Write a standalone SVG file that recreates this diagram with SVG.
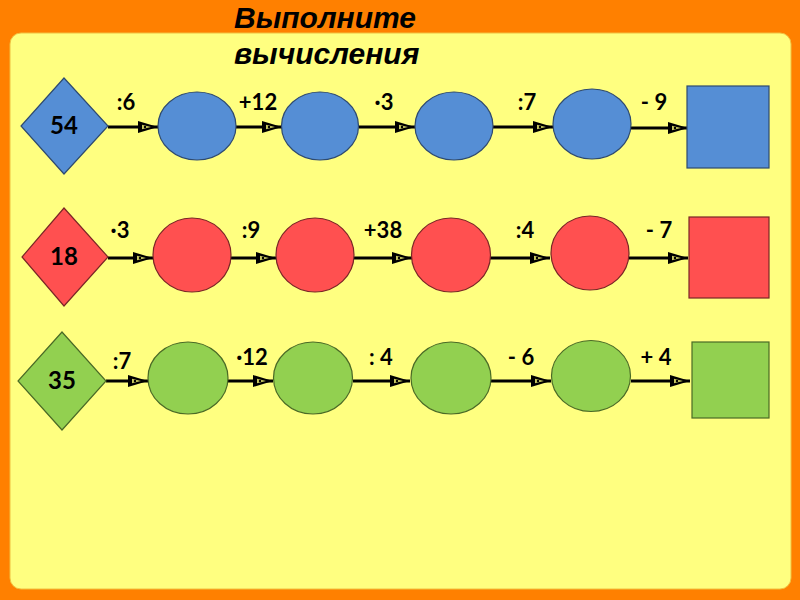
<svg xmlns="http://www.w3.org/2000/svg" width="800" height="600" viewBox="0 0 800 600">
<defs>
<style>
.title{font-family:"Liberation Sans",Arial,sans-serif;font-weight:bold;font-style:italic;font-size:30px;fill:#000}
.num{font-family:Lato,"Liberation Sans",sans-serif;font-weight:bold;font-size:24px;fill:#000;text-anchor:middle}
.lbl{font-family:Lato,"Liberation Sans",sans-serif;font-weight:bold;font-size:22px;fill:#000;text-anchor:middle}
.b{fill:#558ED5;stroke:#2E4A70;stroke-width:1.2}
.r{fill:#FF5050;stroke:#7A2626;stroke-width:1.2}
.g{fill:#92D050;stroke:#4A6A26;stroke-width:1.2}
.c{stroke:#000;stroke-width:3;fill:none;marker-end:url(#ah)}
</style>
<marker id="ah" markerUnits="userSpaceOnUse" markerWidth="22" markerHeight="14" refX="20" refY="6" orient="auto" overflow="visible">
<path d="M0,0 L20,6 L0,12 Z" fill="#000"/>
<path d="M4,3.8 L13,6 L4,8.2 Z" fill="#C8C860"/>
<circle cx="7" cy="6" r="1.2" fill="#000"/>
</marker>
</defs>
<rect x="0" y="0" width="800" height="600" fill="#FF8000"/>
<rect x="10" y="33" width="781" height="556" rx="11" ry="11" fill="#FFFF80" stroke="#F0C040" stroke-width="1"/>
<g id="title">
<text class="title" x="234" y="28">Выполните</text>
<text class="title" x="234" y="64">вычисления</text>
</g>
<g id="connectors">
<line class="c" x1="108" y1="127" x2="158" y2="127"/>
<line class="c" x1="236" y1="127" x2="282" y2="127"/>
<line class="c" x1="359" y1="127" x2="415" y2="127"/>
<line class="c" x1="493" y1="127" x2="553" y2="127"/>
<line class="c" x1="631" y1="128" x2="688" y2="128"/>
<line class="c" x1="108" y1="258" x2="153" y2="258"/>
<line class="c" x1="231" y1="258" x2="276" y2="258"/>
<line class="c" x1="354" y1="258" x2="412" y2="258"/>
<line class="c" x1="490" y1="258" x2="550" y2="258"/>
<line class="c" x1="629" y1="258" x2="688" y2="258"/>
<line class="c" x1="106" y1="381" x2="148" y2="381"/>
<line class="c" x1="228" y1="381" x2="273" y2="381"/>
<line class="c" x1="353" y1="381" x2="410" y2="381"/>
<line class="c" x1="491" y1="381" x2="551" y2="381"/>
<line class="c" x1="631" y1="381" x2="690" y2="381"/>
</g>
<g id="labels">
<text class="lbl" x="126" y="110">:6</text>
<text class="lbl" x="258" y="110">+12</text>
<text class="lbl" x="384" y="110">·3</text>
<text class="lbl" x="527" y="110">:7</text>
<text class="lbl" x="654" y="110">- 9</text>
<text class="lbl" x="120" y="238">·3</text>
<text class="lbl" x="251" y="238">:9</text>
<text class="lbl" x="383" y="238">+38</text>
<text class="lbl" x="525" y="238">:4</text>
<text class="lbl" x="659" y="238">- 7</text>
<text class="lbl" x="122" y="369">:7</text>
<text class="lbl" x="252" y="365">·12</text>
<text class="lbl" x="381" y="365">: 4</text>
<text class="lbl" x="521" y="365">- 6</text>
<text class="lbl" x="656" y="365">+ 4</text>
</g>
<g id="row1-start"><polygon class="b" points="64,78 108,126 64,174 21,126"/><text class="num" x="64" y="134">54</text></g>
<g id="row1-n1"><ellipse class="b" cx="197" cy="126" rx="39" ry="34"/></g>
<g id="row1-n2"><ellipse class="b" cx="320" cy="126" rx="38.5" ry="34"/></g>
<g id="row1-n3"><ellipse class="b" cx="454" cy="126" rx="39" ry="34"/></g>
<g id="row1-n4"><ellipse class="b" cx="592" cy="124" rx="39" ry="35"/></g>
<g id="row1-end"><rect class="b" x="687" y="86" width="82" height="82"/></g>
<g id="row2-start"><polygon class="r" points="64,208 108,257 64,306 22,257"/><text class="num" x="64" y="265">18</text></g>
<g id="row2-n1"><ellipse class="r" cx="192" cy="255" rx="39" ry="37"/></g>
<g id="row2-n2"><ellipse class="r" cx="315" cy="255" rx="39" ry="37"/></g>
<g id="row2-n3"><ellipse class="r" cx="451" cy="255" rx="39.5" ry="37"/></g>
<g id="row2-n4"><ellipse class="r" cx="590" cy="253" rx="39" ry="37"/></g>
<g id="row2-end"><rect class="r" x="689" y="217" width="80" height="81"/></g>
<g id="row3-start"><polygon class="g" points="62,332 106,381 62,430 18,381"/><text class="num" x="62" y="389">35</text></g>
<g id="row3-n1"><ellipse class="g" cx="188" cy="378" rx="40" ry="36"/></g>
<g id="row3-n2"><ellipse class="g" cx="313" cy="378" rx="39.5" ry="36"/></g>
<g id="row3-n3"><ellipse class="g" cx="451" cy="378" rx="40" ry="36"/></g>
<g id="row3-n4"><ellipse class="g" cx="591" cy="376" rx="39.5" ry="35.5"/></g>
<g id="row3-end"><rect class="g" x="692" y="342" width="77" height="76"/></g>
</svg>
